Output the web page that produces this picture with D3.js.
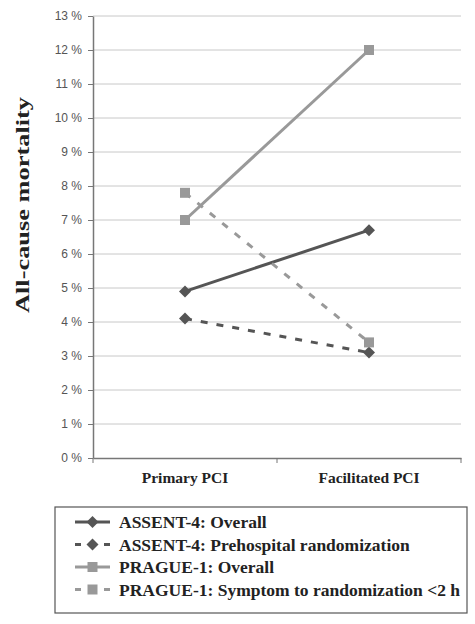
<!DOCTYPE html>
<html><head><meta charset="utf-8">
<script src="https://cdn.jsdelivr.net/npm/d3@7"></script>
<style>body{margin:0;background:#fff}</style>
</head><body>
<script>
const categories = ["Primary PCI", "Facilitated PCI"];
const seriesNames = ["ASSENT-4: Overall", "ASSENT-4: Prehospital randomization", "PRAGUE-1: Overall", "PRAGUE-1: Symptom to randomization <2 h"];
const assentOverall = [4.9, 6.7];
const assentPrehospital = [4.1, 3.1];
const pragueOverall = [7.0, 12.0];
const pragueSymptom = [7.8, 3.4];
const yTicks = [0,1,2,3,4,5,6,7,8,9,10,11,12,13];

const series = [
  {name: seriesNames[0], values: assentOverall, color: "#555", dash: null, marker: "diamond"},
  {name: seriesNames[1], values: assentPrehospital, color: "#555", dash: "7,9", marker: "diamond"},
  {name: seriesNames[2], values: pragueOverall, color: "#999", dash: null, marker: "square"},
  {name: seriesNames[3], values: pragueSymptom, color: "#999", dash: "7,9", marker: "square"}
];

const W = 475, H = 624;
const svg = d3.select("body").append("svg").attr("width", W).attr("height", H);
const m = {left: 93, right: 461, top: 16, bottom: 458};
const x = d3.scaleBand().domain(categories).range([m.left, m.right]);
const y = d3.scaleLinear().domain([0, 13]).range([m.bottom, m.top]);
const serif = "'Liberation Serif', 'Times New Roman', serif";
const sans = "'Liberation Sans', Arial, sans-serif";

// grid
svg.append("g").selectAll("line").data(yTicks.filter(d => d > 0)).join("line")
  .attr("x1", m.left).attr("x2", m.right)
  .attr("y1", d => y(d)).attr("y2", d => y(d))
  .attr("stroke", "#c8c8c8").attr("stroke-width", 1);

// y axis
const yAxis = svg.append("g").attr("transform", `translate(${m.left},0)`)
  .call(d3.axisLeft(y).tickValues(yTicks).tickSize(5).tickSizeOuter(0).tickFormat(d => d + " %"));
yAxis.select(".domain").attr("stroke", "#777").attr("stroke-width", 1.5);
yAxis.selectAll(".tick line").attr("stroke", "#777");
yAxis.selectAll("text").attr("font-family", sans).attr("font-size", 12).attr("fill", "#555").attr("x", -11);

// x axis
const xAxis = svg.append("g").attr("transform", `translate(0,${m.bottom})`)
  .call(d3.axisBottom(x).tickSize(0).tickSizeOuter(0));
xAxis.select(".domain").attr("stroke", "#777").attr("stroke-width", 1.5);
xAxis.selectAll("text").attr("font-family", serif).attr("font-size", 15.5).attr("font-weight", "bold").attr("fill", "#222").attr("dy", "1.45em");
// tick marks at band boundaries
svg.append("g").selectAll("line").data([m.left, m.left + x.bandwidth(), m.right]).join("line")
  .attr("x1", d => d).attr("x2", d => d).attr("y1", m.bottom).attr("y2", m.bottom + 5)
  .attr("stroke", "#777");

// y title
svg.append("text").attr("transform", `translate(29,205) rotate(-90)`)
  .attr("text-anchor", "middle").attr("font-family", serif).attr("font-weight", "bold")
  .attr("font-size", 18).attr("textLength", 216).attr("lengthAdjust", "spacingAndGlyphs")
  .attr("fill", "#222").text("All-cause mortality");

const cx = c => x(c) + x.bandwidth() / 2;
const line = d3.line().x((d, i) => cx(categories[i])).y(d => y(d));

function marker(g, type, px, py, color) {
  if (type === "diamond") {
    g.append("path").attr("d", `M${px},${py-6}L${px+6},${py}L${px},${py+6}L${px-6},${py}Z`).attr("fill", color);
  } else {
    g.append("rect").attr("x", px - 5).attr("y", py - 5).attr("width", 10).attr("height", 10).attr("fill", color);
  }
}

const plot = svg.append("g");
series.forEach(s => {
  plot.append("path").datum(s.values).attr("d", line).attr("fill", "none")
    .attr("stroke", s.color).attr("stroke-width", 3).attr("stroke-dasharray", s.dash);
});
series.forEach(s => {
  s.values.forEach((v, i) => marker(plot, s.marker, cx(categories[i]), y(v), s.color));
});

// legend
const lg = svg.append("g");
lg.append("rect").attr("x", 55).attr("y", 507).attr("width", 412).attr("height", 106)
  .attr("fill", "#fff").attr("stroke", "#555").attr("stroke-width", 1.2);
series.forEach((s, i) => {
  const ly = 522 + i * 22.5;
  if (s.dash) {
    lg.append("line").attr("x1", 75).attr("x2", 81).attr("y1", ly).attr("y2", ly).attr("stroke", s.color).attr("stroke-width", 3);
    lg.append("line").attr("x1", 104).attr("x2", 110).attr("y1", ly).attr("y2", ly).attr("stroke", s.color).attr("stroke-width", 3);
  } else {
    lg.append("line").attr("x1", 75).attr("x2", 110).attr("y1", ly).attr("y2", ly).attr("stroke", s.color).attr("stroke-width", 3);
  }
  marker(lg, s.marker, 92.5, ly, s.color);
  lg.append("text").attr("x", 119).attr("y", ly).attr("dy", "0.35em")
    .attr("font-family", serif).attr("font-weight", "bold").attr("font-size", 17.5).attr("fill", "#222").text(s.name);
});
</script>
</body></html>
